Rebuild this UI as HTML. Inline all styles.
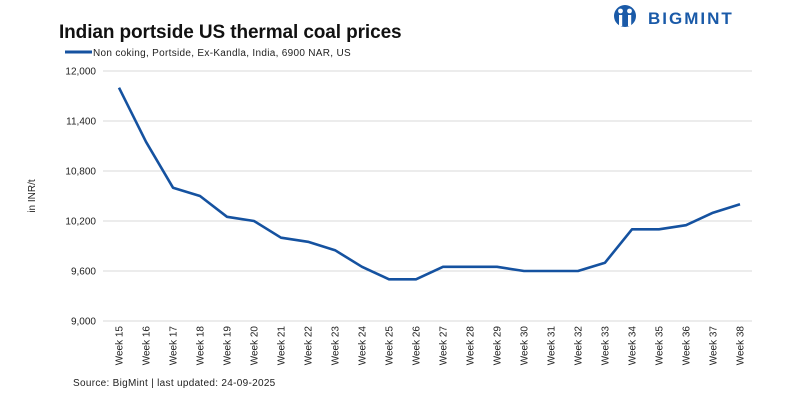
<!DOCTYPE html>
<html><head><meta charset="utf-8"><style>
html,body{margin:0;padding:0;background:#fff;}
svg{display:block;font-family:"Liberation Sans",sans-serif;}
</style></head><body>
<svg width="800" height="400" viewBox="0 0 800 400">
<text x="59" y="38" font-size="19" font-weight="bold" fill="#111" letter-spacing="-0.1">Indian portside US thermal coal prices</text>
<g>
<circle cx="625" cy="16" r="11" fill="#1a5aa8"/>
<circle cx="620.5" cy="11" r="2.4" fill="#fff"/><circle cx="629.5" cy="11" r="2.4" fill="#fff"/>
<rect x="619" y="15" width="3.2" height="11" fill="#fff"/><rect x="628" y="15" width="3.2" height="11" fill="#fff"/>
<text x="648" y="24" font-size="17" font-weight="bold" fill="#1a5aa8" letter-spacing="2">BIGMINT</text>
</g>
<g>
<line x1="65" y1="52" x2="92" y2="52" stroke="#1552a0" stroke-width="3"/>
<text x="93" y="56" font-size="10" fill="#222" letter-spacing="0.3">Non coking, Portside, Ex-Kandla, India, 6900 NAR, US</text>
</g>
<g id="grid"></g>
<g id="yticks"></g>
<g id="xticks"></g>
<text transform="translate(35,196) rotate(-90)" font-size="10" fill="#222" text-anchor="middle">in INR/t</text>
<path id="line" fill="none" stroke="#1552a0" stroke-width="2.6" stroke-linejoin="round"/>
<text x="73" y="386" font-size="10" fill="#222" letter-spacing="0.3">Source: BigMint | last updated: 24-09-2025</text>
</svg>
<script>
const categories=["Week 15","Week 16","Week 17","Week 18","Week 19","Week 20","Week 21","Week 22","Week 23","Week 24","Week 25","Week 26","Week 27","Week 28","Week 29","Week 30","Week 31","Week 32","Week 33","Week 34","Week 35","Week 36","Week 37","Week 38"];
const prices=[11800,11150,10600,10500,10250,10200,10000,9950,9850,9650,9500,9500,9650,9650,9650,9600,9600,9600,9700,10100,10100,10150,10300,10400];
const yTicks=[9000,9600,10200,10800,11400,12000];
const yTickLabels=["9,000","9,600","10,200","10,800","11,400","12,000"];
const NS="http://www.w3.org/2000/svg";
const x0=105.5,x1=753.5,yTop=71,yBot=321,yMin=9000,yMax=12000;
const bw=(x1-x0)/categories.length;
const X=i=>x0+bw*(i+0.5);
const Y=v=>yBot-(v-yMin)/(yMax-yMin)*(yBot-yTop);
const grid=document.getElementById('grid'),yt=document.getElementById('yticks'),xt=document.getElementById('xticks');
yTicks.forEach((v,i)=>{
 const l=document.createElementNS(NS,'line');
 l.setAttribute('x1',103);l.setAttribute('x2',752);l.setAttribute('y1',Y(v));l.setAttribute('y2',Y(v));
 l.setAttribute('stroke','#d9d9d9');l.setAttribute('stroke-width','1');
 
 
 grid.appendChild(l);
 const t=document.createElementNS(NS,'text');
 t.setAttribute('x',96);t.setAttribute('y',Y(v)+3.5);t.setAttribute('text-anchor','end');
 t.setAttribute('font-size','10');t.setAttribute('fill','#222');
 t.textContent=yTickLabels[i];
 
 
 yt.appendChild(t);
});
categories.forEach((c,i)=>{
 const t=document.createElementNS(NS,'text');
 t.setAttribute('transform','translate('+(X(i)+3.5)+',326) rotate(-90)');
 t.setAttribute('text-anchor','end');t.setAttribute('font-size','10');t.setAttribute('fill','#222');
 t.textContent=c;
 
 
 xt.appendChild(t);
});
document.getElementById('line').setAttribute('d',prices.map((v,i)=>(i?'L':'M')+X(i).toFixed(1)+','+Y(v).toFixed(1)).join(''));
</script>
</body></html>
